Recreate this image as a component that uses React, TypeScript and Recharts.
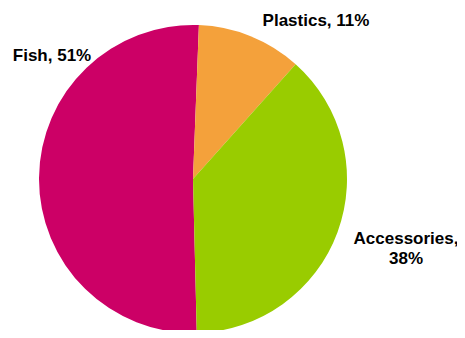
import { PieChart, Pie, Cell } from "recharts";

const categories = ["Fish", "Plastics", "Accessories"];
const shares = [51, 11, 38];
const colors = ["#CC0066", "#F4A13B", "#99CC00"];

// label lines per slice (Excel style)
const labelLines = [["Fish, 51%"], ["Plastics, 11%"], ["Accessories,", "38%"]];
// label offsets from the pie centre
const labelOffsets = [
  [-141, -124],
  [123, -159],
  [213, 59],
];

const data = categories.map((name, i) => ({ name, value: shares[i] }));

const renderLabel = (props: any) => {
  const { cx, cy, index } = props;
  const [dx, dy] = labelOffsets[index];
  const lines = labelLines[index];
  return (
    <text
      x={cx + dx}
      y={cy + dy}
      textAnchor="middle"
      dominantBaseline="central"
      fill="#000"
      fontFamily="'Liberation Sans', Arial, sans-serif"
      fontWeight="bold"
      fontSize={17}
    >
      {lines.map((l, k) => (
        <tspan key={k} x={cx + dx} dy={k === 0 ? 0 : 20}>
          {l}
        </tspan>
      ))}
    </text>
  );
};

export default function App() {
  return (
    <div style={{ margin: -8, width: 465, height: 338, background: "#fff" }}>
      <PieChart width={465} height={338} margin={{ top: 0, right: 0, bottom: 0, left: 0 }}>
        <Pie
          data={data}
          dataKey="value"
          nameKey="name"
          cx={193}
          cy={179}
          outerRadius={154}
          startAngle={271.4}
          endAngle={-88.6}
          stroke="none"
          label={renderLabel}
          labelLine={false}
          isAnimationActive={false}
        >
          {data.map((d, i) => (
            <Cell key={d.name} fill={colors[i]} />
          ))}
        </Pie>
      </PieChart>
    </div>
  );
}
